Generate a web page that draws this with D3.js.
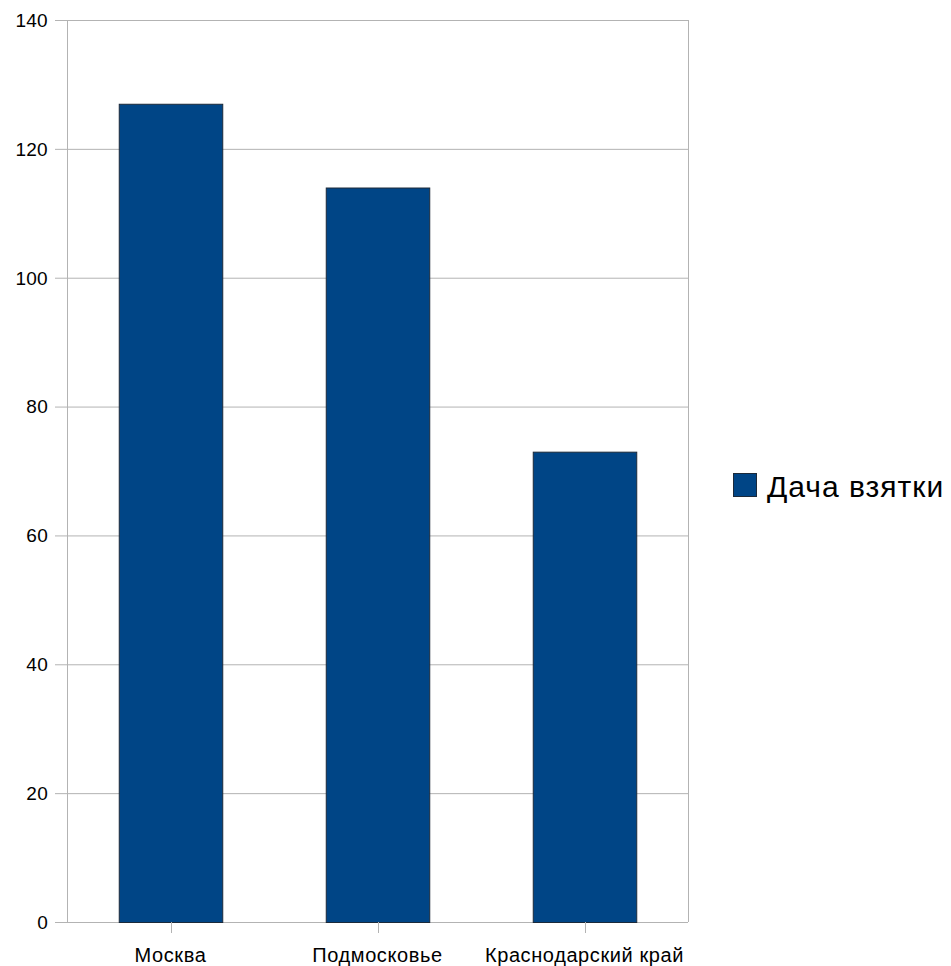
<!DOCTYPE html>
<html>
<head>
<meta charset="utf-8">
<script src="https://cdn.jsdelivr.net/npm/d3@7"></script>
<style>
body{margin:0;background:#fff;}
text{font-family:"Liberation Sans",Arial,sans-serif;fill:#000;}
</style>
</head>
<body>
<script>
// data
let regions = ['Москва','Подмосковье','Краснодарский край'];
let values = [127,114,73];
let seriesName = 'Дача взятки';
let yTicks = [0,20,40,60,80,100,120,140];

let width = 951, height = 966;
let svg = d3.select('body').append('svg').attr('width',width).attr('height',height);

let plotLeft = 67, plotRight = 688, plotTop = 20, plotBottom = 922;

// scales
let x = d3.scaleBand().domain(regions).range([plotLeft,plotRight]).paddingInner(0.5).paddingOuter(0.25);
let y = d3.scaleLinear().domain([0,140]).range([plotBottom,plotTop]);

// grid
let grid = svg.append('g');
grid.selectAll('line').data(yTicks).join('line')
  .attr('x1',plotLeft-12).attr('x2',plotRight)
  .attr('y1',d=>y(d)+0.5).attr('y2',d=>y(d)+0.5)
  .attr('stroke','#b3b3b3').attr('stroke-width',1);
// frame verticals
svg.append('line').attr('x1',plotLeft+0.5).attr('x2',plotLeft+0.5).attr('y1',plotTop).attr('y2',plotBottom)
  .attr('stroke','#b3b3b3');
svg.append('line').attr('x1',plotRight+0.5).attr('x2',plotRight+0.5).attr('y1',plotTop).attr('y2',plotBottom)
  .attr('stroke','#b3b3b3');

// y labels
svg.append('g').selectAll('text').data(yTicks).join('text')
  .attr('x',plotLeft-19).attr('y',d=>y(d)).attr('dy','0.36em')
  .attr('text-anchor','end').style('font-size','19px').style('letter-spacing','0.3px')
  .text(d=>d);

// bars
svg.append('g').selectAll('rect').data(regions).join('rect')
  .attr('x',d=>x(d)+0.5).attr('width',x.bandwidth())
  .attr('y',(d,i)=>y(values[i])+0.5).attr('height',(d,i)=>y(0)-y(values[i]))
  .attr('fill','#004586').attr('stroke','#1c2a3a').attr('stroke-width',1);

// x ticks
svg.append('g').selectAll('line').data(regions).join('line')
  .attr('x1',d=>Math.round(x(d)+x.bandwidth()/2)+0.5).attr('x2',d=>Math.round(x(d)+x.bandwidth()/2)+0.5)
  .attr('y1',plotBottom).attr('y2',plotBottom+11).attr('stroke','#b3b3b3');
svg.append('g').selectAll('text').data(regions).join('text')
  .attr('x',d=>x(d)+x.bandwidth()/2).attr('y',962)
  .attr('text-anchor','middle').style('font-size','20px').style('letter-spacing','0.6px')
  .text(d=>d);

// legend
let legend = svg.append('g');
legend.append('rect').attr('x',733.5).attr('y',473.5).attr('width',23).attr('height',23)
  .attr('fill','#004586').attr('stroke','#1c2a3a');
legend.append('text').attr('x',767).attr('y',497).style('font-size','30px').style('letter-spacing','1px').text(seriesName);
</script>
</body>
</html>
